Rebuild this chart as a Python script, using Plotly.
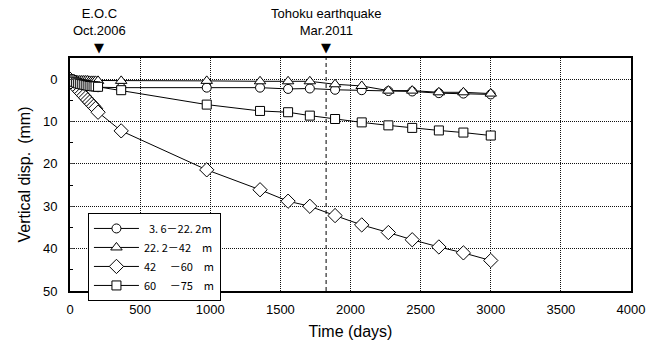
import plotly.graph_objects as go

days = [0, 14, 28, 42, 56, 70, 84, 98, 112, 126, 140, 154, 168, 182, 200,
        365, 975, 1355, 1555, 1710, 1890, 2080, 2270, 2440, 2630, 2805, 3000]
s_3_6 = [0, 0.3, 0.5, 0.7, 0.9, 1.0, 1.1, 1.2, 1.3, 1.4, 1.5, 1.6, 1.7, 1.8, 1.9,
         2.0, 2.0, 2.0, 2.3, 2.2, 2.5, 2.6, 2.8, 2.9, 3.3, 3.4, 3.6]
s_22_2 = [0, 0.1, 0.2, 0.2, 0.3, 0.3, 0.3, 0.3, 0.3, 0.3, 0.4, 0.4, 0.4, 0.4, 0.4,
          0.4, 0.4, 0.5, 0.5, 0.5, 1.2, 1.6, 2.7, 2.7, 3.1, 3.1, 3.4]
s_42 = [0, 0.6, 1.2, 1.8, 2.4, 2.9, 3.4, 3.9, 4.4, 4.9, 5.4, 5.9, 6.4, 6.9, 7.8,
        12.2, 21.4, 26.1, 28.8, 30.0, 32.2, 34.4, 36.2, 37.9, 39.6, 41.0, 42.8]
s_60 = [0, 0.3, 0.6, 0.8, 1.0, 1.1, 1.2, 1.3, 1.4, 1.5, 1.6, 1.6, 1.7, 1.7, 1.8,
        2.6, 6.0, 7.5, 7.8, 8.6, 9.4, 10.2, 10.9, 11.5, 12.1, 12.6, 13.3]

series_names = ["\u00a0\u00a03. 6－22. 2m", "22. 2－42\u2003m", "42\u2003 －60\u2003m", "60\u2003 －75\u2003m"]
series_values = [s_3_6, s_22_2, s_42, s_60]
symbols = ["circle", "triangle-up", "diamond", "square"]
sizes = [9, 10, 11, 9]

event_days = [207, 1826]
event_labels = ["E.O.C<br>Oct.2006", "Tohoku earthquake<br>Mar.2011"]

x_ticks = [0, 500, 1000, 1500, 2000, 2500, 3000, 3500, 4000]
y_ticks = [0, 10, 20, 30, 40, 50]

fig = go.Figure()
for name, vals, sym, sz in zip(series_names, series_values, symbols, sizes):
    fig.add_trace(go.Scatter(
        x=days, y=vals, name=name, mode="lines+markers",
        line=dict(color="black", width=1),
        marker=dict(symbol=sym, size=sz, color="white",
                    line=dict(color="black", width=1)),
    ))

# dashed line at Tohoku earthquake
fig.add_shape(type="line", x0=event_days[1], x1=event_days[1], y0=0, y1=1,
              xref="x", yref="paper", line=dict(color="black", width=1, dash="4px,3px"),
              layer="below")

for d, lab in zip(event_days, event_labels):
    fig.add_annotation(x=d, y=1, xref="x", yref="paper", yshift=1,
                       text="▼", showarrow=False, yanchor="bottom",
                       font=dict(size=13, color="black", family="DejaVu Sans"))
    fig.add_annotation(x=d, y=1, xref="x", yref="paper", yshift=18,
                       text=lab, showarrow=False, yanchor="bottom",
                       font=dict(size=13, color="black", family="Liberation Sans"))

grid = dict(showgrid=True, gridcolor="#111", griddash="1px,1px", gridwidth=1)

fig.update_layout(
    width=646, height=340,
    margin=dict(l=70, r=15, t=58, b=49, autoexpand=False),
    paper_bgcolor="white", plot_bgcolor="white",
    font=dict(family="Liberation Sans", size=13, color="black"),
    showlegend=True,
    legend=dict(x=0.032, y=0.335, xanchor="left", yanchor="top",
                bgcolor="white", bordercolor="black", borderwidth=1,
                font=dict(family="Noto Sans CJK JP", size=11),
                tracegroupgap=0, itemwidth=45),
    xaxis=dict(range=[0, 4000], tickvals=x_ticks, ticks="", showline=True,
               linecolor="black", linewidth=2, mirror=True, automargin=False,
               zeroline=False, ticklabelstandoff=5,
               title=dict(text="Time (days)", standoff=13),
               tickfont=dict(size=13), **grid),
    yaxis=dict(range=[50, -5], tickvals=y_ticks, ticks="inside", ticklen=4,
               showline=True, linecolor="black", linewidth=2, mirror=True,
               zeroline=False, ticklabelstandoff=8, automargin=False,
               minor=dict(tickvals=[5, 15, 25, 35, 45], ticks="inside", ticklen=3,
                          tickcolor="black"),
               title=dict(text="Vertical disp.\u2002(mm)", standoff=8),
               tickfont=dict(size=13), **grid),
)

fig.write_html("out.html", config={"displayModeBar": False, "staticPlot": True},
               post_script="document.body.style.margin='0px';document.body.style.padding='0px';")
